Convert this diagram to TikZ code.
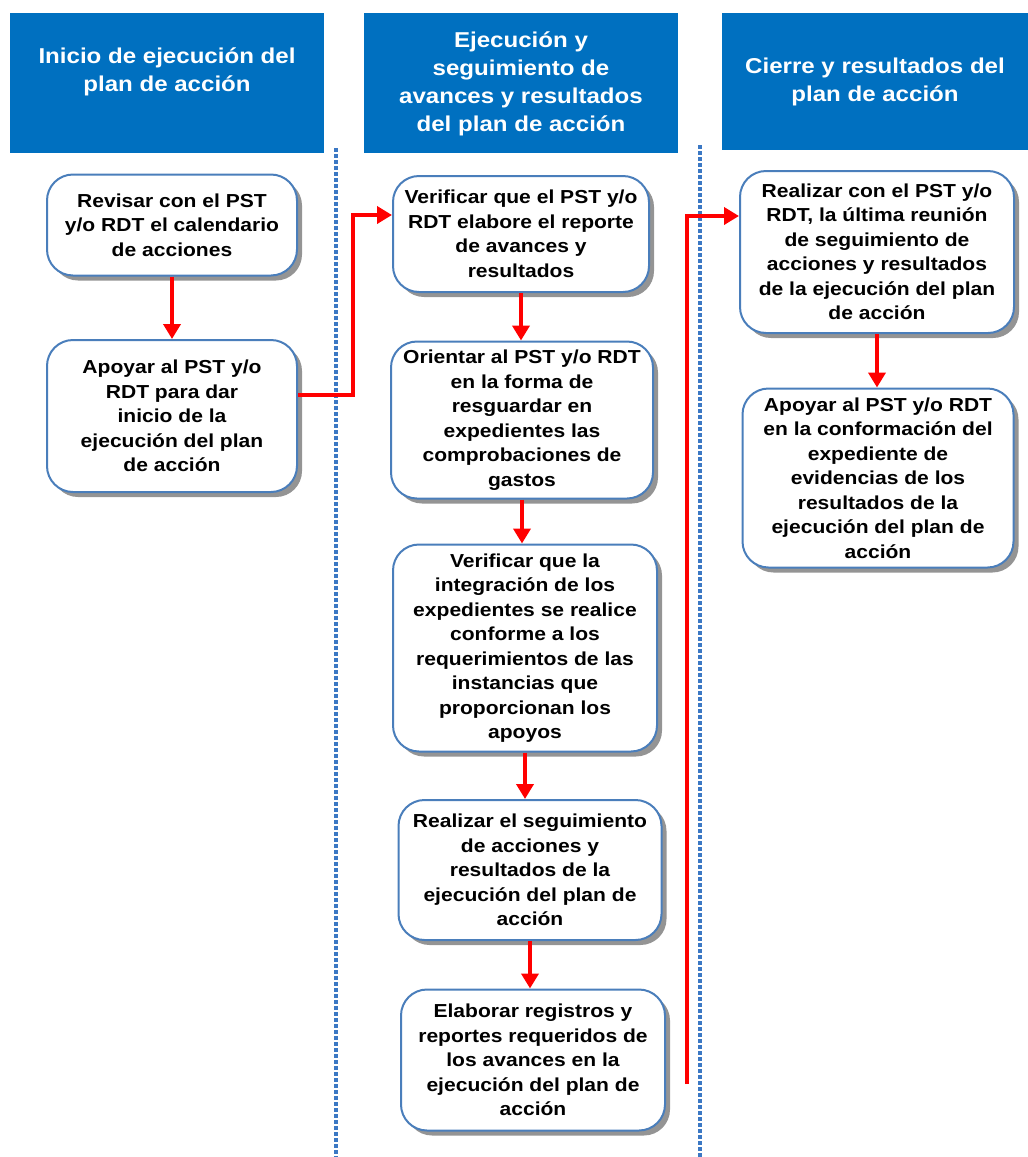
\documentclass[tikz,border=0pt]{standalone}
\usepackage{fontspec}
\setmainfont[FakeStretch=1.12]{Liberation Sans}
\usetikzlibrary{arrows.meta,shadows}
\definecolor{azul}{HTML}{0070C0}
\definecolor{borde}{HTML}{4A7EBB}
\definecolor{puntos}{HTML}{3B78C4}

\begin{document}
\begin{tikzpicture}[x=1pt,y=-1pt,
  caja/.style={draw=borde,line width=2pt,fill=white,rounded corners=26pt,align=center,inner sep=2pt,
    font=\fontsize{18.8}{24.5}\selectfont\bfseries,
    drop shadow={shadow xshift=5pt,shadow yshift=-5pt,fill=black!42,opacity=1}},
  titulo/.style={text=white,align=center,font=\fontsize{21.5}{28}\selectfont\bfseries},
  flecha/.style={red,line width=3.8pt,-{Triangle[width=17pt,length=15pt]}},
  divisor/.style={puntos,line width=3.5pt,dash pattern=on 3.5pt off 2.5pt}]
  \useasboundingbox (0,0) rectangle (1028,1157);
  % encabezados
  \fill[azul] (10,13) rectangle (324,153);
  \fill[azul] (364,13) rectangle (678,153);
  \fill[azul] (722,13) rectangle (1028,150);
  \node[titulo] (t1) at (167,72) {Inicio de ejecución del\\plan de acción};
  \node[titulo] (t2) at (521,84) {Ejecución y\\seguimiento de\\avances y resultados\\del plan de acción};
  \node[titulo] (t3) at (875,82) {Cierre y resultados del\\plan de acción};
  \draw[divisor] (336,148) -- (336,1157);
  \draw[divisor] (700,145) -- (700,1157);

  \node[caja,minimum width=250pt,minimum height=101pt] (a1) at (172,225) {Revisar con el PST\\y/o RDT el calendario\\de acciones};
  \node[caja,minimum width=250pt,minimum height=152pt] (a2) at (172,416) {Apoyar al PST y/o\\RDT para dar\\inicio de la\\ejecución del plan\\de acción};
  \node[caja,minimum width=256pt,minimum height=116pt] (b1) at (521,234) {Verificar que el PST y/o\\RDT elabore el reporte\\de avances y\\resultados};
  \node[caja,minimum width=262pt,minimum height=157pt] (b2) at (522,420) {Orientar al PST y/o RDT\\en la forma de\\resguardar en\\expedientes las\\comprobaciones de\\gastos};
  \node[caja,minimum width=264pt,minimum height=207pt] (b3) at (525,648) {Verificar que la\\integración de los\\expedientes se realice\\conforme a los\\requerimientos de las\\instancias que\\proporcionan los\\apoyos};
  \node[caja,minimum width=263pt,minimum height=140pt] (b4) at (530,870) {Realizar el seguimiento\\de acciones y\\resultados de la\\ejecución del plan de\\acción};
  \node[caja,minimum width=264pt,minimum height=141pt] (b5) at (533,1060) {Elaborar registros y\\reportes requeridos de\\los avances en la\\ejecución del plan de\\acción};
  \node[caja,minimum width=274pt,minimum height=162pt] (c1) at (877,252) {Realizar con el PST y/o\\RDT, la última reunión\\de seguimiento de\\acciones y resultados\\de la ejecución del plan\\de acción};
  \node[caja,minimum width=271pt,minimum height=179pt] (c2) at (878,478) {Apoyar al PST y/o RDT\\en la conformación del\\expediente de\\evidencias de los\\resultados de la\\ejecución del plan de\\acción};

  \draw[flecha] (a1.south) -- (a2.north);
  \draw[flecha] ([yshift=21pt]a2.east) -- ++(55,0) |- ([yshift=19pt]b1.west);
  \draw[flecha] (b1.south) -- (b1.south |- b2.north);
  \draw[flecha] (b2.south) -- (b2.south |- b3.north);
  \draw[flecha] (b3.south) -- (b3.south |- b4.north);
  \draw[flecha] (b4.south) -- (b4.south |- b5.north);
  \coordinate (finb) at (687,1084);
  \draw[flecha] (finb) |- ([yshift=36pt]c1.west);
  \draw[flecha] (c1.south) -- (c1.south |- c2.north);
\end{tikzpicture}
\end{document}
